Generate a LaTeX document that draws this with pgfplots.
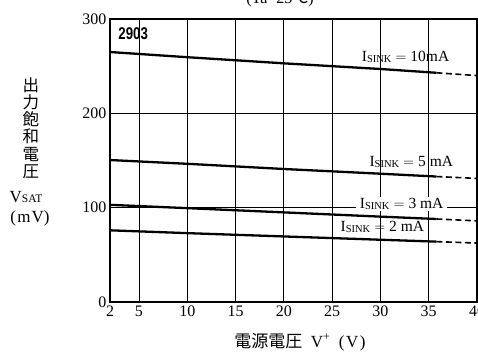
\documentclass[border=0pt]{standalone}
\usepackage{pgfplots}
\pgfplotsset{compat=1.18}
\usepackage{fontspec}
\setmainfont{Liberation Serif}
\setsansfont{Liberation Sans}
\newfontfamily\cjk{Noto Sans CJK JP}
\newcommand{\isink}{I\raisebox{-1.4pt}{\fontsize{10.5}{11}\selectfont SINK}}
\begin{document}
\begin{tikzpicture}
\begin{axis}[
  scale only axis, width=367pt, height=283pt,
  xmin=2, xmax=40, ymin=0, ymax=300,
  xtick={2,5,10,15,20,25,30,35,40},
  ytick={0,100,200,300},
  grid=major,
  grid style={black, line width=0.85pt},
  axis line style={line width=1.4pt},
  major tick length=0pt,
  tick label style={font=\fontsize{16}{18}\selectfont},
  /pgf/number format/assume math mode=true,
  xticklabel style={yshift=0pt},
  yticklabel style={xshift=0pt},
  clip=false,
]
% 10 mA
\addplot[black, line width=2.3pt] coordinates {(2,265) (10,259.5) (20,253) (30,247) (35.8,243)};
\addplot[black, line width=1.6pt, dash pattern=on 6pt off 3.5pt] coordinates {(35.8,243) (40,240)};
% 5 mA
\addplot[black, line width=2.3pt] coordinates {(2,150.5) (10,146.5) (20,141) (30,136) (35.8,133)};
\addplot[black, line width=1.6pt, dash pattern=on 6pt off 3.5pt] coordinates {(35.8,133) (40,131)};
% 3 mA
\addplot[black, line width=2.3pt] coordinates {(2,103) (10,99.5) (20,95) (30,90.5) (35.8,88)};
\addplot[black, line width=1.6pt, dash pattern=on 6pt off 3.5pt] coordinates {(35.8,88) (40,86)};
% 2 mA
\addplot[black, line width=2.3pt] coordinates {(2,76) (10,73) (20,69.5) (30,66) (35.8,64)};
\addplot[black, line width=1.6pt, dash pattern=on 6pt off 3.5pt] coordinates {(35.8,64) (40,62.5)};

\node[font=\fontsize{15.5}{17}\selectfont, inner sep=1pt] at (axis cs:32.6,260) {\isink${}={}$10mA};
\node[font=\fontsize{15.5}{17}\selectfont, inner sep=1pt] at (axis cs:33.2,148.5) {\isink${}={}$5 mA};
\node[font=\fontsize{15.5}{17}\selectfont, fill=white, inner xsep=4pt, inner ysep=1pt] at (axis cs:32.2,104) {\isink${}={}$3 mA};
\node[font=\fontsize{15.5}{17}\selectfont, inner sep=1pt] at (axis cs:30.2,79.5) {\isink${}={}$2 mA};
\node[font=\sffamily\bfseries\fontsize{17}{18}\selectfont, xscale=0.78, transform shape, inner sep=0pt] at (axis cs:4.4,284) {2903};
\end{axis}
\node[font=\fontsize{16}{18}\selectfont, anchor=base] at (170pt,298pt) {(Ta=25{\cjk ℃})};
\node[font=\cjk\fontsize{16.5}{17.2}\selectfont, align=center, inner sep=0pt] at (-79pt,174pt) {出\\力\\飽\\和\\電\\圧};
\node[font=\fontsize{17}{19}\selectfont, inner sep=0pt] at (-84pt,105pt) {V\raisebox{-0.5pt}{\fontsize{11.5}{12}\selectfont SAT}};
\node[font=\fontsize{17}{19}\selectfont, inner sep=0pt] at (-80pt,84pt) {({\kern1.5pt}m{\kern1pt}V)};
\node[font=\fontsize{17}{19}\selectfont, inner sep=0pt] at (190pt,-40pt) {{\cjk 電源電圧}\enspace V\textsuperscript{+}\enspace({\kern1.5pt}V{\kern1.5pt})};
\pgfresetboundingbox
\useasboundingbox (-110pt,-49pt) rectangle (368pt,302pt);
\end{tikzpicture}
\end{document}
